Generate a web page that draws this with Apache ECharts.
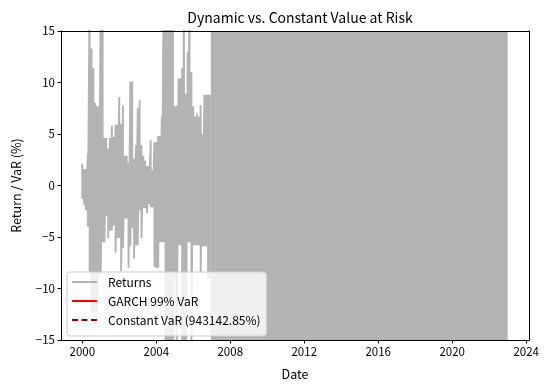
<!DOCTYPE html>
<html>
<head>
<meta charset="utf-8">
<script src="https://cdn.jsdelivr.net/npm/echarts@6/dist/echarts.min.js"></script>
<style>
html,body{margin:0;padding:0;background:#fff;}
#chart{width:547px;height:391px;}
</style>
</head>
<body>
<div id="chart"></div>
<script>
// ---- data ----
// Returns (%) : visible envelope (local highs / lows) sampled every ~0.1 year, 2000-2007
const sampleYears = [
  2000.0,2000.1,2000.2,2000.3,2000.4,2000.5,2000.6,2000.7,2000.8,2000.9,
  2001.0,2001.1,2001.2,2001.3,2001.4,2001.5,2001.6,2001.7,2001.8,2001.9,
  2002.0,2002.1,2002.2,2002.3,2002.4,2002.5,2002.6,2002.7,2002.8,2002.9,
  2003.0,2003.1,2003.2,2003.3,2003.4,2003.5,2003.6,2003.7,2003.8,2003.9,
  2004.0,2004.1,2004.2,2004.3,2004.4,2004.5,2004.6,2004.7,2004.8,2004.9,
  2005.0,2005.1,2005.2,2005.3,2005.4,2005.5,2005.6,2005.7,2005.8,2005.9,
  2006.0,2006.1,2006.2,2006.3,2006.4,2006.5,2006.6,2006.7,2006.8,2006.9
];
const returnsHigh = [
  2.1,1.6,1.6,3.0,20,13.3,11.4,8.0,7.7,7.7,
  20,20,4.6,4.6,3.6,4.6,5.8,4.7,5.9,5.9,
  8.6,6.0,7.8,2.9,2.9,2.2,10.1,10.1,2.6,3.9,
  7.5,8.3,3.9,2.9,2.4,1.9,1.9,4.4,1.5,4.2,
  4.2,4.8,4.8,6.7,20,20,20,20,20,20,
  7.7,7.8,10.4,10.4,11.4,20,8.9,13.0,20,11.0,
  7.7,6.7,7.0,6.7,7.8,5.0,8.8,8.8,8.8,8.8
];
const returnsLow = [
  -1.3,-1.9,-2.4,-4.0,-8.4,-12.3,-12.3,-12.3,-12.3,-8.6,
  -8.6,-5.5,-5.5,-2.9,-5.1,-4.4,-4.4,-3.9,-6.5,-5.1,
  -5.1,-8.3,-6.1,-3.2,-3.2,-8.0,-5.9,-4.1,-7.1,-5.8,
  -5.8,-2.4,-5.1,-2.2,-2.2,-2.7,-1.8,-2.1,-2.1,-7.9,
  -8.0,-8.0,-5.5,-5.5,-5.5,-20,-20,-20,-20,-20,
  -9.0,-20,-5.8,-5.8,-20,-20,-20,-5.5,-5.5,-15.5,
  -5.8,-5.8,-5.8,-5.8,-8.5,-5.9,-5.9,-5.9,-9.0,-9.0
];
// From here to the end of the data the returns run off the scale on both sides
const offScaleStart = 2006.95;
const returnsEnd = 2023.0;

// VaR series (both lie far outside the plotted range)
const garchYears = [2000.0, 2007.0, 2023.0];
const garchVaR = [-40, -250000, -2000000];
const constantVaR = -943142.85;

const yTicks = [-15,-10,-5,0,5,10,15];
const xTicks = [2000,2004,2008,2012,2016,2020,2024];
const xMin = 1998.85, xMax = 2024.15;

// ---- build ----
const returnsData = [];
for (let i = 0; i < sampleYears.length; i++) {
  returnsData.push([sampleYears[i], returnsHigh[i]]);
  returnsData.push([sampleYears[i], returnsLow[i]]);
}
const garchData = garchYears.map((y, i) => [y, garchVaR[i]]);
const constData = [[sampleYears[0], constantVaR], [returnsEnd, constantVaR]];

const FONT = '"Noto Sans CJK SC", "Noto Sans", sans-serif';
const minus = v => String(v).replace('-', '\u2212');

const chart = echarts.init(document.getElementById('chart'), null, {renderer: 'canvas'});
chart.setOption({
  animation: false,
  backgroundColor: '#ffffff',
  textStyle: {fontFamily: FONT},
  title: {
    text: 'Dynamic vs. Constant Value at Risk',
    left: 295, top: 6, textAlign: 'center',
    textStyle: {fontFamily: FONT, fontSize: 14, fontWeight: 'normal', color: '#000'}
  },
  grid: {left: 61, right: 18, top: 31, bottom: 51, containLabel: false},
  legend: {
    orient: 'vertical',
    left: 67, top: 272,
    padding: [4, 6, 10, 4],
    itemWidth: 25, itemHeight: 14, itemGap: 7,
    backgroundColor: 'rgba(255,255,255,0.8)',
    borderColor: '#cccccc', borderWidth: 1, borderRadius: 3,
    itemStyle: {opacity: 0},
    textStyle: {fontFamily: FONT, fontSize: 12, color: '#000', padding: [0, 0, 0, 6]},
    data: ['Returns', 'GARCH 99% VaR', 'Constant VaR (943142.85%)'],
    z: 20
  },
  xAxis: [{
    type: 'value', min: xMin, max: xMax, z: 10,
    name: 'Date', nameLocation: 'middle', nameGap: 28,
    nameTextStyle: {fontFamily: FONT, fontSize: 12.5, color: '#000'},
    axisLine: {show: true, onZero: false, lineStyle: {color: '#000', width: 1}},
    axisTick: {show: true, customValues: xTicks, length: 3.5, lineStyle: {color: '#000'}},
    axisLabel: {customValues: xTicks, margin: 6, fontFamily: FONT, fontSize: 11.5, color: '#000',
                formatter: v => String(Math.round(v))},
    splitLine: {show: false}
  }, {
    type: 'value', position: 'top', min: xMin, max: xMax, z: 10,
    axisLine: {show: true, onZero: false, lineStyle: {color: '#000', width: 1}},
    axisTick: {show: false}, axisLabel: {show: false}, splitLine: {show: false}
  }],
  yAxis: [{
    type: 'value', min: -15, max: 15, interval: 5, z: 10,
    name: 'Return / VaR (%)', nameLocation: 'middle', nameGap: 38, nameRotate: 90,
    nameTextStyle: {fontFamily: FONT, fontSize: 12.5, color: '#000'},
    axisLine: {show: true, onZero: false, lineStyle: {color: '#000', width: 1}},
    axisTick: {show: true, inside: false, length: 3.5, lineStyle: {color: '#000'}},
    axisLabel: {margin: 6, fontFamily: FONT, fontSize: 11.5, color: '#000', formatter: minus},
    splitLine: {show: false}
  }, {
    type: 'value', position: 'right', min: -15, max: 15, interval: 5, z: 10,
    axisLine: {show: true, onZero: false, lineStyle: {color: '#000', width: 1}},
    axisTick: {show: false}, axisLabel: {show: false}, splitLine: {show: false}
  }],
  series: [{
    name: 'Returns', type: 'line', data: returnsData,
    showSymbol: false, symbol: 'none', clip: true,
    lineStyle: {color: '#b3b3b3', width: 1.9},
    itemStyle: {color: '#b3b3b3'},
    markArea: {
      silent: true,
      itemStyle: {color: '#b3b3b3', opacity: 1},
      data: [[{xAxis: offScaleStart}, {xAxis: returnsEnd}]]
    }
  }, {
    name: 'GARCH 99% VaR', type: 'line', data: garchData,
    showSymbol: false, symbol: 'none', clip: true,
    lineStyle: {color: '#ff0000', width: 1.5},
    itemStyle: {color: '#ff0000'}
  }, {
    name: 'Constant VaR (943142.85%)', type: 'line', data: constData,
    showSymbol: false, symbol: 'none', clip: true,
    lineStyle: {color: '#8b0000', width: 1.5, type: [6, 3.5]},
    itemStyle: {color: '#8b0000'}
  }]
});
</script>
</body>
</html>
